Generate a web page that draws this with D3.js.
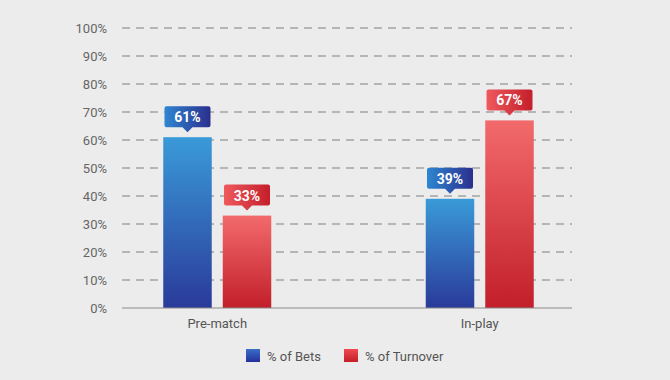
<!DOCTYPE html>
<html><head><meta charset="utf-8">
<script src="https://cdn.jsdelivr.net/npm/d3@7"></script>
<style>body{margin:0;background:#ececec;}svg{display:block;font-family:Roboto, "DejaVu Sans", sans-serif;}</style>
</head><body>
<svg id="c" width="670" height="380"></svg>
<script>
const categories = ["Pre-match", "In-play"];
const seriesNames = ["% of Bets", "% of Turnover"];
const betsValues = [61, 39];
const turnoverValues = [33, 67];
const yTicks = [0,10,20,30,40,50,60,70,80,90,100];

const svg = d3.select("#c");
const W = 670, H = 380;
svg.append("rect").attr("width",W).attr("height",H).attr("fill","#ececec");

const y = d3.scaleLinear().domain([0,100]).range([308,28]);
const x = d3.scaleBand().domain(categories).range([86,611]);
const xs = d3.scaleBand().domain(seriesNames).range([0,108]).paddingInner(0.185);

const defs = svg.append("defs");
function vgrad(id, c1, c2){
  const g = defs.append("linearGradient").attr("id",id).attr("x1",0).attr("y1",0).attr("x2",0).attr("y2",1);
  g.append("stop").attr("offset","0%").attr("stop-color",c1);
  g.append("stop").attr("offset","100%").attr("stop-color",c2);
}
function hgrad(id, c1, c2){
  const g = defs.append("linearGradient").attr("id",id).attr("x1",0).attr("y1",0).attr("x2",1).attr("y2",0);
  g.append("stop").attr("offset","0%").attr("stop-color",c1);
  g.append("stop").attr("offset","100%").attr("stop-color",c2);
}
vgrad("gb","#3a9ad8","#2a3a9a");
vgrad("gr","#f26a6c","#c21f2a");
hgrad("lb","#2f86d2","#2a2f8e");
hgrad("lr","#ee5a5e","#c41e2a");
vgrad("legb","#3a6fc8","#24309a");
vgrad("legr","#ee4a50","#c41e2a");

// gridlines
const gx0 = 122, gx1 = 572;
svg.append("g").selectAll("line").data(yTicks.filter(d=>d>0)).join("line")
  .attr("x1",gx0).attr("x2",gx1).attr("y1",d=>y(d)).attr("y2",d=>y(d))
  .attr("stroke","#7e7e7e").attr("stroke-width",1.1).attr("stroke-dasharray","8,6");

// y axis labels
const yAxis = d3.axisLeft(y).tickValues(yTicks).tickFormat(d=>d+"%").tickSize(0).tickPadding(0);
const ya = svg.append("g").attr("transform","translate(107,0)").call(yAxis);
ya.select(".domain").remove();
ya.selectAll("text").attr("fill","#666").attr("font-size",13).attr("font-family","Roboto, sans-serif");

const data = categories.map((c,i)=>({cat:c, vals:[
  {s:seriesNames[0], v:betsValues[i], fill:"url(#gb)", lab:"url(#lb)"},
  {s:seriesNames[1], v:turnoverValues[i], fill:"url(#gr)", lab:"url(#lr)"}]}));

const groups = svg.append("g").selectAll("g").data(data).join("g")
  .attr("transform",d=>`translate(${x(d.cat)+x.bandwidth()/2-54},0)`);

groups.selectAll("rect.bar").data(d=>d.vals).join("rect").attr("class","bar")
  .attr("x",d=>xs(d.s)).attr("width",xs.bandwidth())
  .attr("y",d=>y(d.v)).attr("height",d=>y(0)-y(d.v)).attr("fill",d=>d.fill);

// callouts
const bw = xs.bandwidth();
const call = groups.selectAll("g.call").data(d=>d.vals).join("g").attr("class","call")
  .attr("transform",d=>`translate(${xs(d.s)+bw/2},${y(d.v)})`);
call.append("path")
  .attr("d",()=>{const w=46,h=21,b=31,r=2;const l=-w/2,t=-b,bot=-b+h;
    return `M${l+r},${t} H${-l-r} Q${-l},${t} ${-l},${t+r} V${bot-r} Q${-l},${bot} ${-l-r},${bot} H5 L0,${bot+5} L-5,${bot} H${l+r} Q${l},${bot} ${l},${bot-r} V${t+r} Q${l},${t} ${l+r},${t} Z`;})
  .attr("fill",d=>d.lab);
call.append("text").attr("x",0).attr("y",-15).attr("text-anchor","middle")
  .attr("fill","#fff").attr("font-size",14).attr("font-weight","bold")
  .attr("font-family","Roboto, sans-serif").text(d=>d.v+"%");

// baseline
svg.append("line").attr("x1",gx0).attr("x2",gx1).attr("y1",y(0)).attr("y2",y(0))
  .attr("stroke","#8a8a8a").attr("stroke-width",1.2);

// category labels
const xAxis = d3.axisBottom(x).tickSize(0).tickPadding(0);
const xa = svg.append("g").attr("transform","translate(0,319)").call(xAxis);
xa.select(".domain").remove();
xa.selectAll("text").attr("fill","#555").attr("font-size",13).attr("font-family","Roboto, sans-serif");

// legend
const legX = [246, 344];
const leg = svg.append("g").selectAll("g").data(seriesNames).join("g")
  .attr("transform",(d,i)=>`translate(${legX[i]},349)`);
leg.append("rect").attr("width",14).attr("height",13).attr("fill",(d,i)=>i?"url(#legr)":"url(#legb)");
leg.append("text").attr("x",21).attr("y",11.5).attr("fill","#555").attr("font-size",13)
  .attr("font-family","Roboto, sans-serif").text(d=>d);
</script>
</body></html>
